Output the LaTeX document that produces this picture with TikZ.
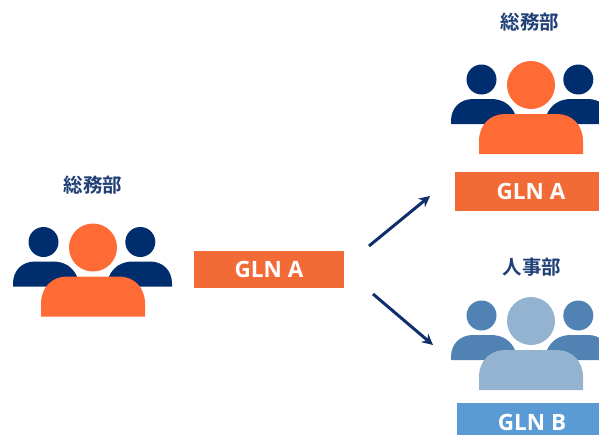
\documentclass[tikz,border=0pt]{standalone}
\usepackage{fontspec}
\setmainfont{Open Sans}
\newfontfamily\jpfont{Noto Sans CJK JP}[BoldFont={Noto Sans CJK JP Bold}]
\usetikzlibrary{arrows.meta}
\definecolor{navy}{HTML}{002D6E}
\definecolor{labelnavy}{HTML}{1F3F77}
\definecolor{orangeA}{HTML}{FF6B35}
\definecolor{boxA}{HTML}{F26A35}
\definecolor{boxB}{HTML}{5B9BD5}
\definecolor{paleC}{HTML}{94B3D1}
\definecolor{midC}{HTML}{5083B3}
\definecolor{arrowC}{HTML}{0F2F6B}
\tikzset{
  x=1pt,y=-1pt,
  glnbox/.style={fill=#1,draw=none,anchor=north west,inner sep=0pt,outer sep=0pt,text=white,
     font=\fontsize{22.5}{23}\selectfont\bfseries,align=center},
  dept/.style={text=labelnavy,inner sep=0pt,font=\jpfont\fontsize{19.5}{20}\selectfont\bfseries},
  flow/.style={draw=arrowC,line width=3pt,-{Stealth[length=11pt,width=11pt]}},
  pics/person/.style n args={2}{code={
    \fill[#2] (-49.5,-5.5) circle[radius=15];
    \fill[#2] (47.3,-5.5) circle[radius=15];
    \fill[#2] (-80,39) -- (-80,36) .. controls (-80,23) and (-71,14) .. (-58,14) -- (-40,14)
       .. controls (-28,14) and (-20,20) .. (-16,29) -- (-16,39) -- cycle;
    \fill[#2] (79,39) -- (79,36) .. controls (79,23) and (70,14) .. (57,14) -- (40,14)
       .. controls (28,14) and (20,20) .. (16,29) -- (16,39) -- cycle;
    \fill[#1] (0,0) circle[radius=24];
    \fill[#1] (-52,69) -- (-52,56) .. controls (-52,40) and (-41,29) .. (-26,29) -- (26,29)
       .. controls (41,29) and (52,40) .. (52,56) -- (52,69) -- cycle;
  }}
}
\begin{document}
\begin{tikzpicture}
\useasboundingbox (0,0) rectangle (599,434);
\clip (0,0) rectangle (599,434);
\pic at (93,247.5) {person={orangeA}{navy}};
\pic at (531,85) {person={orangeA}{navy}};
\pic at (531,321) {person={paleC}{midC}};
\node[dept] (labelL) at (93,185) {総務部};
\node[dept] (labelT) at (530,22) {総務部};
\node[dept] (labelB) at (532,267) {人事部};
\node[glnbox=boxA,minimum width=150pt,minimum height=37pt] (boxL) at (194,251) {GLN A};
\node[glnbox=boxA,minimum width=152pt,minimum height=39pt] (boxT) at (455,172) {\raisebox{-1.5pt}{GLN A}};
\node[glnbox=boxB,minimum width=150pt,minimum height=38pt] (boxB) at (457,403) {GLN B};
\coordinate (a1) at (369,246);
\coordinate (a2) at (430,196);
\coordinate (b1) at (373,294);
\coordinate (b2) at (433,345);
\draw[flow] (a1) -- (a2);
\draw[flow] (b1) -- (b2);
\end{tikzpicture}
\end{document}
